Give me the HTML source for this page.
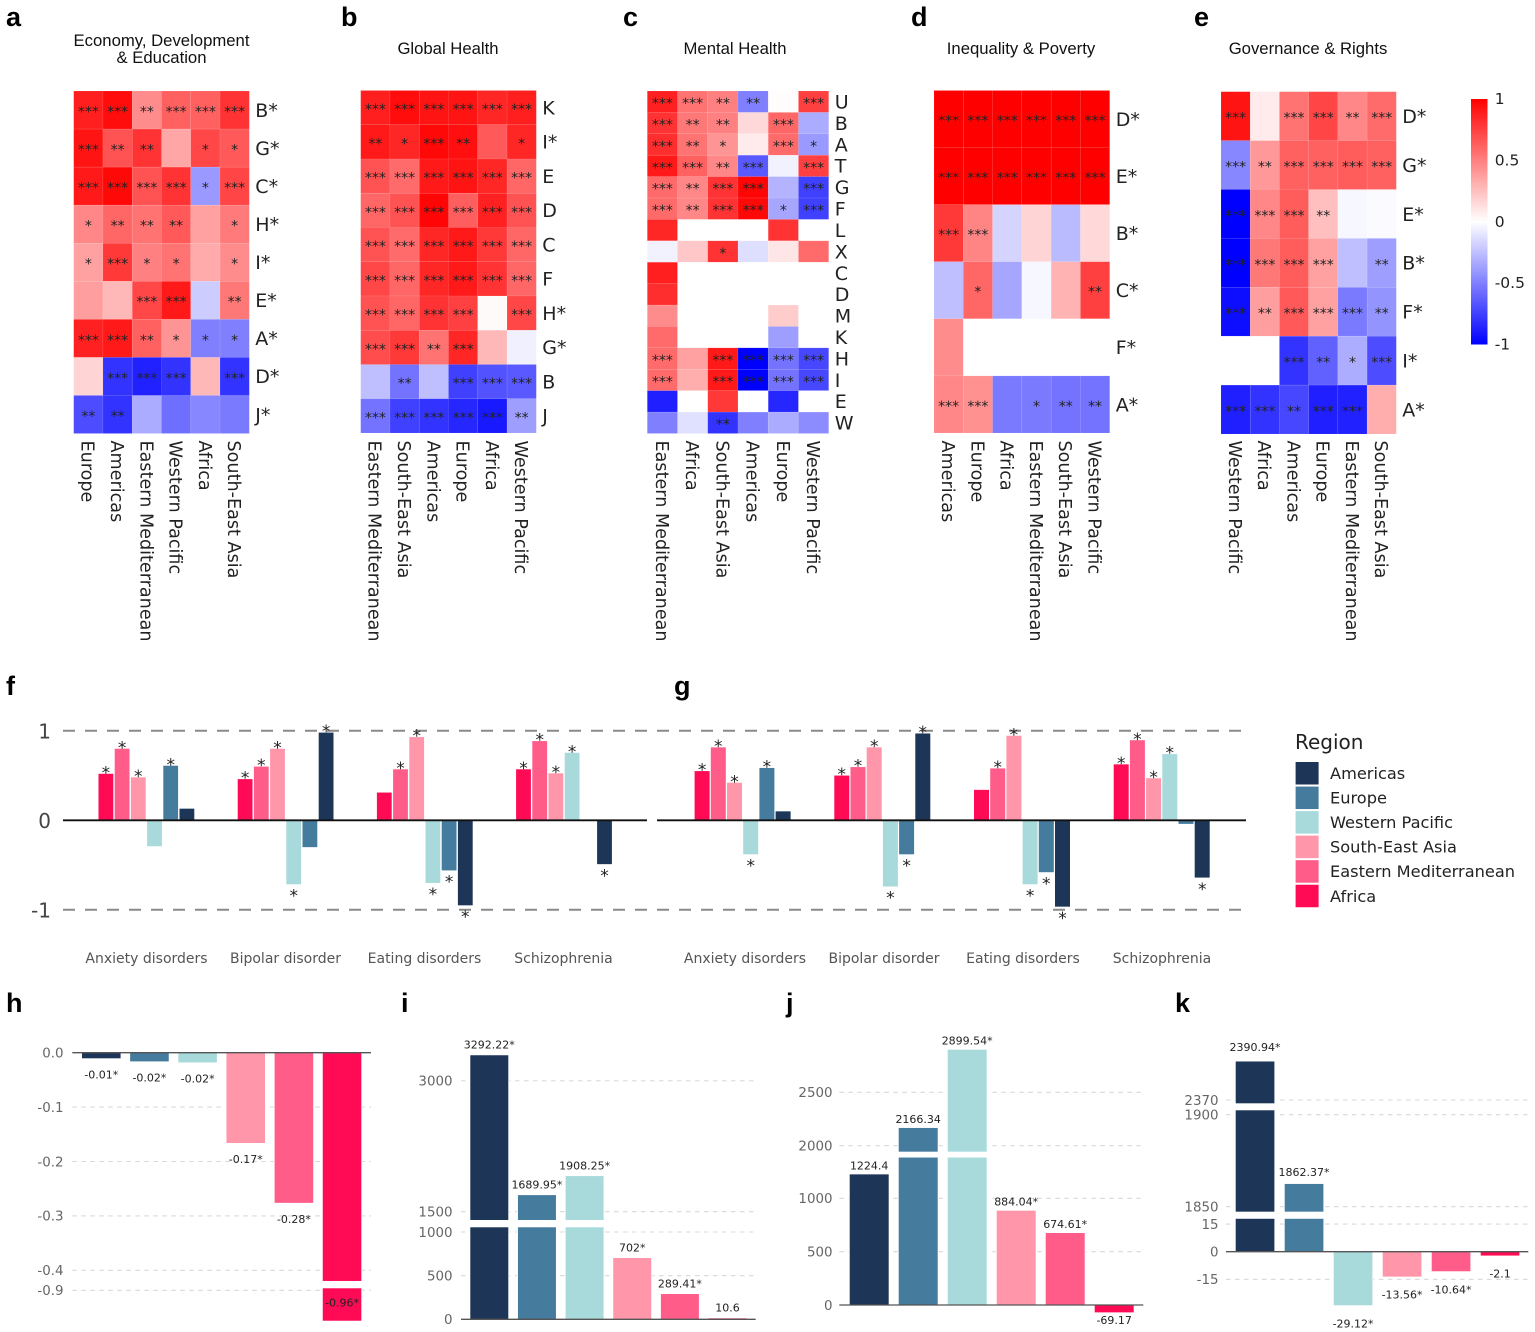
<!DOCTYPE html>
<html lang="en">
<head>
<meta charset="utf-8">
<title>Regional correlation heatmaps and bar charts</title>
<style>
html,body{margin:0;padding:0;background:#fff;}
svg{display:block;filter:blur(0.35px);}
.letter{font:bold 27px "Liberation Sans",sans-serif;fill:#000;}
.title{font:16.7px "Liberation Sans",sans-serif;fill:#111;text-anchor:middle;}
text{font-family:"DejaVu Sans",sans-serif;}
</style>
</head>
<body>
<svg id="figure" xmlns="http://www.w3.org/2000/svg" width="1535" height="1332" viewBox="0 0 1535 1332">
  <defs>
    <linearGradient id="cbGrad" x1="0" y1="0" x2="0" y2="1">
      <stop offset="0" stop-color="#ff0000"/>
      <stop offset="0.5" stop-color="#ffffff"/>
      <stop offset="1" stop-color="#0000ff"/>
    </linearGradient>
  </defs>
  <rect x="0" y="0" width="1535" height="1332" fill="#fff"/>
  <text class="letter" x="6" y="26">a</text>
  <text class="letter" x="341" y="26">b</text>
  <text class="letter" x="623" y="26">c</text>
  <text class="letter" x="911" y="26">d</text>
  <text class="letter" x="1194" y="26">e</text>
  <text class="letter" x="6" y="695">f</text>
  <text class="letter" x="674" y="695">g</text>
  <text class="letter" x="6" y="1012">h</text>
  <text class="letter" x="401" y="1012">i</text>
  <text class="letter" x="786" y="1012">j</text>
  <text class="letter" x="1175" y="1012">k</text>
  <text class="title" x="161.5" y="46">Economy, Development</text>
  <text class="title" x="161.5" y="63">&amp; Education</text>
  <text class="title" x="448" y="54">Global Health</text>
  <text class="title" x="735" y="54">Mental Health</text>
  <text class="title" x="1021" y="54">Inequality &amp; Poverty</text>
  <text class="title" x="1308" y="54">Governance &amp; Rights</text>
  <rect x="1471" y="99" width="16.5" height="245.5" fill="url(#cbGrad)"/>
  <text x="1295" y="749" font-size="20" fill="#222">Region</text>
</svg>
<script>
/* ---------- heatmap data ---------- */
const heatAcols = ["Europe","Americas","Eastern Mediterranean","Western Pacific","Africa","South-East Asia"];
const heatArows = ["B*","G*","C*","H*","I*","E*","A*","D*","J*"];
const heatAvalues = [
 [.88,.95,.45,.62,.62,.80],
 [.92,.68,.80,.35,.72,.65],
 [.90,.97,.68,.80,-.40,.73],
 [.47,.60,.55,.65,.37,.52],
 [.37,.78,.50,.55,.33,.45],
 [.38,.28,.72,.90,-.20,.53],
 [.87,.90,.62,.42,-.50,-.50],
 [.17,-.80,-.87,-.80,.28,-.80],
 [-.70,-.80,-.33,-.57,-.47,-.52]];
const heatAstars = [
 [3,3,2,3,3,3],[3,2,2,0,1,1],[3,3,3,3,1,3],[1,2,2,2,0,1],[1,3,1,1,0,1],
 [0,0,3,3,0,2],[3,3,2,1,1,1],[0,3,3,3,0,3],[2,2,0,0,0,0]];

const heatBcols = ["Eastern Mediterranean","South-East Asia","Americas","Europe","Africa","Western Pacific"];
const heatBrows = ["K","I*","E","D","C","F","H*","G*","B","J"];
const heatBvalues = [
 [.88,.95,.92,.92,.85,.88],
 [.90,.85,.97,.94,.65,.85],
 [.68,.58,.90,.92,.85,.60],
 [.60,.68,.98,.63,.87,.68],
 [.68,.58,.85,.90,.78,.60],
 [.72,.60,.85,.90,.80,.60],
 [.68,.60,.80,.75,.02,.72],
 [.70,.78,.55,.85,.28,-.06],
 [-.25,-.55,-.25,-.75,-.68,-.65],
 [-.55,-.75,-.80,-.85,-.90,-.38]];
const heatBstars = [
 [3,3,3,3,3,3],[2,1,3,2,0,1],[3,3,3,3,3,3],[3,3,3,3,3,3],[3,3,3,3,3,3],
 [3,3,3,3,3,3],[3,3,3,3,0,3],[3,3,2,3,0,0],[0,2,0,3,3,3],[3,3,3,3,3,2]];

const heatCcols = ["Eastern Mediterranean","Africa","South-East Asia","Americas","Europe","Western Pacific"];
const heatCrows = ["U","B","A","T","G","F","L","X","C","D","M","K","H","I","E","W"];
const heatCvalues = [
 [.87,.55,.50,-.50,.01,.75],
 [.80,.53,.50,.15,.60,-.33],
 [.82,.55,.42,.08,.58,-.40],
 [.90,.62,.47,-.65,-.05,.75],
 [.58,.47,.80,.98,-.30,-.75],
 [.58,.47,.80,.97,-.35,-.75],
 [.85,0,0,0,.80,0],
 [-.05,.22,.80,-.13,.10,.58],
 [.88,0,0,0,0,0],
 [.82,0,0,0,0,0],
 [.45,0,0,0,.20,0],
 [.58,0,0,0,-.38,0],
 [.58,.37,.90,-1,-.55,-.72],
 [.58,.32,.90,-1,-.55,-.72],
 [-.88,0,.78,0,-.85,0],
 [-.50,-.12,-.80,-.50,-.33,-.45]];
const heatCstars = [
 [3,3,2,2,0,3],[3,2,2,0,3,0],[3,2,1,0,3,1],[3,3,2,3,0,3],[3,2,3,3,0,3],[3,2,3,3,1,3],
 [0,0,0,0,0,0],[0,0,1,0,0,0],[0,0,0,0,0,0],[0,0,0,0,0,0],[0,0,0,0,0,0],[0,0,0,0,0,0],
 [3,0,3,3,3,3],[3,0,3,3,3,3],[0,0,0,0,0,0],[0,0,2,0,0,0]];

const heatDcols = ["Americas","Europe","Africa","Eastern Mediterranean","South-East Asia","Western Pacific"];
const heatDrows = ["D*","E*","B*","C*","F*","A*"];
const heatDvalues = [
 [1,1,1,1,1,1],
 [1,1,1,1,1,1],
 [.78,.48,-.17,.17,-.27,.15],
 [-.25,.60,-.35,-.03,.30,.75],
 [.45,0,0,0,0,0],
 [.47,.43,-.52,-.52,-.55,-.55]];
const heatDstars = [
 [3,3,3,3,3,3],[3,3,3,3,3,3],[3,3,0,0,0,0],[0,1,0,0,0,2],[0,0,0,0,0,0],[3,3,0,1,2,2]];

const heatEcols = ["Western Pacific","Africa","Americas","Europe","Eastern Mediterranean","South-East Asia"];
const heatErows = ["D*","G*","E*","B*","F*","I*","A*"];
const heatEvalues = [
 [.92,.08,.55,.73,.47,.58],
 [-.47,.40,.62,.62,.64,.62],
 [-1,.47,.64,.25,-.03,-.02],
 [-1,.53,.64,.37,-.25,-.38],
 [-.95,.38,.65,.37,-.52,-.42],
 [0,0,-.80,-.62,-.32,-.70],
 [-.88,-.80,-.72,-.88,-.87,.32]];
const heatEstars = [
 [3,0,3,3,2,3],[3,2,3,3,3,3],[3,3,3,2,0,0],[3,3,3,3,0,2],[3,2,3,3,3,2],[0,0,3,2,1,3],[3,3,2,3,3,0]];

const colorbarTicks = [1,0.5,0,-0.5,-1];

/* ---------- grouped bars (panels f, g) ---------- */
const regions = ["Americas","Europe","Western Pacific","South-East Asia","Eastern Mediterranean","Africa"];
const regionColors = ["#1d3557","#457b9d","#a8dadc","#ff96aa","#ff5c8a","#ff0a54"];
const disorderNames = ["Anxiety disorders","Bipolar disorder","Eating disorders","Schizophrenia"];
const groupBarOrder = ["Africa","Eastern Mediterranean","South-East Asia","Western Pacific","Europe","Americas"];
const groupTicks = [1,0,-1];
const groupFvalues = [
 [.52,.80,.48,-.29,.61,.13],
 [.46,.60,.80,-.715,-.30,.98],
 [.31,.57,.93,-.70,-.56,-.95],
 [.57,.885,.525,.755,.005,-.49]];
const groupFstars = [[1,1,1,0,1,0],[1,1,1,1,0,1],[0,1,1,1,1,1],[1,1,1,1,0,1]];
const groupGvalues = [
 [.55,.815,.42,-.38,.585,.10],
 [.50,.595,.815,-.74,-.38,.97],
 [.34,.58,.945,-.715,-.58,-.965],
 [.625,.895,.47,.74,-.04,-.64]];
const groupGstars = [[1,1,1,1,1,0],[1,1,1,1,1,1],[0,1,1,1,1,1],[1,1,1,1,0,1]];

/* ---------- broken-axis bars (panels h-k) ---------- */
const barOrder = ["Americas","Europe","Western Pacific","South-East Asia","Eastern Mediterranean","Africa"];
const barHvalues = [-0.0103,-0.016,-0.018,-0.166,-0.276,-0.96];
const barHlabels = ["-0.01*","-0.02*","-0.02*","-0.17*","-0.28*","-0.96*"];
const barHticks = [0,-0.1,-0.2,-0.3,-0.4,-0.9];
const barHtickLabels = ["0.0","-0.1","-0.2","-0.3","-0.4","-0.9"];
const barIvalues = [3292.22,1689.95,1908.25,702,289.41,10.6];
const barIlabels = ["3292.22*","1689.95*","1908.25*","702*","289.41*","10.6"];
const barIticks = [0,500,1000,1500,3000];
const barItickLabels = ["0","500","1000","1500","3000"];
const barJvalues = [1224.4,2166.34,2899.54,884.04,674.61,-69.17];
const barJlabels = ["1224.4","2166.34","2899.54*","884.04*","674.61*","-69.17"];
const barJticks = [0,500,1000,2000,2500];
const barJtickLabels = ["0","500","1000","2000","2500"];
const barKvalues = [2390.94,1862.37,-29.12,-13.56,-10.64,-2.1];
const barKlabels = ["2390.94*","1862.37*","-29.12*","-13.56*","-10.64*","-2.1"];
const barKticks = [-15,0,15,1850,1900,2370];
const barKtickLabels = ["-15","0","15","1850","1900","2370"];

/* ---------- helpers ---------- */
const NS = "http://www.w3.org/2000/svg";
const root = document.getElementById("figure");
function mk(tag, attrs, text){
  const el = document.createElementNS(NS, tag);
  for(const k in attrs){ el.setAttribute(k, attrs[k]); }
  if(text !== undefined){ el.textContent = text; }
  root.appendChild(el);
  return el;
}
function heatColor(v){
  const t = Math.max(-1, Math.min(1, v));
  if(t >= 0){
    const c = Math.round(255*(1-t));
    return "rgb(255,"+c+","+c+")";
  }
  const c = Math.round(255*(1+t));
  return "rgb("+c+","+c+",255)";
}

/* ---------- heatmaps ---------- */
function drawHeatmap(box, cols, rows, values, stars){
  const cw = (box.x1-box.x0)/cols.length;
  const rh = (box.y1-box.y0)/rows.length;
  const xOf = function(i){ return box.x0 + i*cw; };
  const yOf = function(j){ return box.y0 + j*rh; };
  rows.forEach(function(rowName, j){
    cols.forEach(function(colName, i){
      const cell = mk("rect",{x:xOf(i),y:yOf(j),width:cw,height:rh,fill:heatColor(values[j][i]),stroke:"rgba(255,255,255,0.12)","stroke-width":0.6});
      
      
      const n = stars[j][i];
      if(n > 0){
        const st = mk("text",{x:xOf(i)+cw/2,y:yOf(j)+rh/2+6.4,"text-anchor":"middle","font-size":14,fill:"#222"},"*".repeat(n));
        
        
      }
    });
    const rl = mk("text",{x:box.x1+6,y:yOf(j)+rh/2+6.8,"font-size":19,fill:"#222"},rowName);
    
    
  });
  cols.forEach(function(colName, i){
    const bx = xOf(i)+cw/2-6.6;
    const cl = mk("text",{x:0,y:0,transform:"translate("+bx+",440.5) rotate(90)","font-size":17.6,fill:"#222"},colName);
    
    
  });
}
drawHeatmap({x0:73.7,x1:249.3,y0:91,y1:433.5},heatAcols,heatArows,heatAvalues,heatAstars);
drawHeatmap({x0:360.7,x1:536.3,y0:90.5,y1:433},heatBcols,heatBrows,heatBvalues,heatBstars);
drawHeatmap({x0:647.3,x1:828.7,y0:91,y1:433.5},heatCcols,heatCrows,heatCvalues,heatCstars);
drawHeatmap({x0:934,x1:1109.7,y0:90.5,y1:433},heatDcols,heatDrows,heatDvalues,heatDstars);
drawHeatmap({x0:1221,x1:1396.3,y0:91.7,y1:434},heatEcols,heatErows,heatEvalues,heatEstars);

colorbarTicks.forEach(function(v){
  const y = 221.2 - v*122.75 + 5.6;
  const t = mk("text",{x:1494.7,y:y,"font-size":15.5,fill:"#222"},String(v));
  
  
});

/* ---------- grouped bars ---------- */
function drawGrouped(box, values, stars, showTickLabels){
  const yOf = function(v){ return box.zero - v*box.unit; };
  groupTicks.forEach(function(v){
    if(v === 0){ return; }
    const g = mk("line",{x1:box.lineStart,x2:box.lineEnd,y1:yOf(v),y2:yOf(v),stroke:"#8a8a8a","stroke-width":2,"stroke-dasharray":"12 10"});
    
    
  });
  if(showTickLabels){
    groupTicks.forEach(function(v){
      const t = mk("text",{x:51,y:yOf(v)+7.5,"text-anchor":"end","font-size":20,fill:"#444"},String(v));
      
      
    });
  }
  disorderNames.forEach(function(name, gi){
    groupBarOrder.forEach(function(region, bi){
      const v = values[gi][bi];
      const x = box.firstBar + gi*box.groupPitch + bi*box.barPitch;
      const top = Math.min(yOf(v), box.zero);
      const h = Math.abs(yOf(v)-box.zero);
      const r = mk("rect",{x:x,y:top,width:box.barWidth,height:h,fill:regionColors[regions.indexOf(region)]});
      
      
      if(stars[gi][bi]){
        const sy = v >= 0 ? yOf(v)-5.3+9.9 : yOf(v)+7.3+9.9;
        const s = mk("text",{x:x+box.barWidth/2,y:sy,"text-anchor":"middle","font-size":17,fill:"#222"},"*");
        
        
      }
    });
    const c = mk("text",{x:box.labelStart+gi*box.labelPitch,y:963,"text-anchor":"middle","font-size":14,fill:"#555"},name);
    
    
  });
  const z = mk("line",{x1:box.lineStart,x2:box.lineEnd,y1:box.zero,y2:box.zero,stroke:"#111","stroke-width":1.8});
  
  
}
drawGrouped({zero:820.3,unit:89.5,lineStart:63,lineEnd:647,firstBar:98.5,groupPitch:139.2,barPitch:16.2,barWidth:14.8,labelStart:146.5,labelPitch:139},groupFvalues,groupFstars,true);
drawGrouped({zero:820.3,unit:89.5,lineStart:657,lineEnd:1246,firstBar:694.6,groupPitch:139.7,barPitch:16.2,barWidth:15,labelStart:745,labelPitch:139},groupGvalues,groupGstars,false);

/* ---------- legend ---------- */
regions.forEach(function(name, i){
  const y = 762 + i*24.55;
  const sw = mk("rect",{x:1295.6,y:y,width:23,height:22.5,fill:regionColors[i]});
  
  
  const lb = mk("text",{x:1330,y:y+17,"font-size":16.2,fill:"#222"},name);
  
  
});

/* ---------- broken-axis bars ---------- */
function drawBroken(cfg, values, labels, ticks, tickLabels){
  const segOf = function(v){
    for(const s of cfg.segments){ if(v >= s.min && v <= s.max){ return s; } }
    return cfg.segments[0];
  };
  const yIn = function(s, v){ return s.refPx - (v - s.ref)*s.scale; };
  const yOf = function(v){ return yIn(segOf(v), v); };
  ticks.forEach(function(v, i){
    const y = yOf(v);
    if(v !== 0){
      const g = mk("line",{x1:cfg.gridStart,x2:cfg.gridEnd,y1:y,y2:y,stroke:"#d8d8d8","stroke-width":1.1,"stroke-dasharray":"4.5 4.5"});
      
      
    }
    const t = mk("text",{x:cfg.tickRight,y:y+4.8,"text-anchor":"end","font-size":13.4,fill:"#666"},tickLabels[i]);
    
    
  });
  barOrder.forEach(function(region, i){
    const v = values[i];
    const x = cfg.firstBar + i*cfg.barPitch;
    const lo = Math.min(0, v);
    const hi = Math.max(0, v);
    cfg.segments.forEach(function(s){
      const a = Math.max(s.min, lo);
      const b = Math.min(s.max, hi);
      if(a < b){
        const r = mk("rect",{x:x-0.5,y:yIn(s,b)-0.5,width:cfg.barWidth+1,height:yIn(s,a)-yIn(s,b)+1,fill:regionColors[regions.indexOf(region)],stroke:"#fff","stroke-width":1});
        
        
      }
    });
    const gap = cfg.gaps[i];
    const ly = (v >= 0 ? yOf(v) - gap : yOf(v) + gap) + 4;
    const lb = mk("text",{x:x+cfg.barWidth/2,y:ly,"text-anchor":"middle","font-size":11,fill:"#222"},labels[i]);
    
    
  });
  const z = mk("line",{x1:cfg.gridStart,x2:cfg.gridEnd,y1:yOf(0),y2:yOf(0),stroke:"#555","stroke-width":1.3});
  
  
}
drawBroken({
  segments:[{min:-0.4196,max:1,ref:0,refPx:1052.7,scale:544},{min:-2,max:-0.896,ref:-0.9,refPx:1290.3,scale:507}],
  firstBar:82,barPitch:48.15,barWidth:38.6,gridStart:72.3,gridEnd:371,tickRight:63.5,gaps:[16,16,16,16,16,-18]
},barHvalues,barHlabels,barHticks,barHtickLabels);
drawBroken({
  segments:[{min:-500,max:1054,ref:0,refPx:1319.3,scale:0.0873},{min:1405,max:9000,ref:1500,refPx:1211.7,scale:0.0873}],
  firstBar:470.3,barPitch:47.65,barWidth:38,gridStart:461,gridEnd:755.7,tickRight:452.5,gaps:[10.7,10.7,10.7,10.7,10.7,10.7]
},barIvalues,barIlabels,barIticks,barItickLabels);
drawBroken({
  segments:[{min:-500,max:1382,ref:0,refPx:1305,scale:0.1067},{min:1944,max:9000,ref:2000,refPx:1145.7,scale:0.1067}],
  firstBar:849.7,barPitch:49,barWidth:39,gridStart:839.3,gridEnd:1143.3,tickRight:832.5,gaps:[9,9,9,9,9,7.7]
},barJvalues,barJlabels,barJticks,barJtickLabels);
drawBroken({
  segments:[{min:-500,max:17.9,ref:0,refPx:1251.7,scale:1.84},{min:1847.3,max:1902.4,ref:1850,refPx:1206.7,scale:1.84},{min:2368.2,max:9000,ref:2370,refPx:1100,scale:1.84}],
  firstBar:1235.7,barPitch:49,barWidth:38.7,gridStart:1226,gridEnd:1528.3,tickRight:1218.5,gaps:[14.7,12,18,18,18,18]
},barKvalues,barKlabels,barKticks,barKtickLabels);
</script>
</body>
</html>
